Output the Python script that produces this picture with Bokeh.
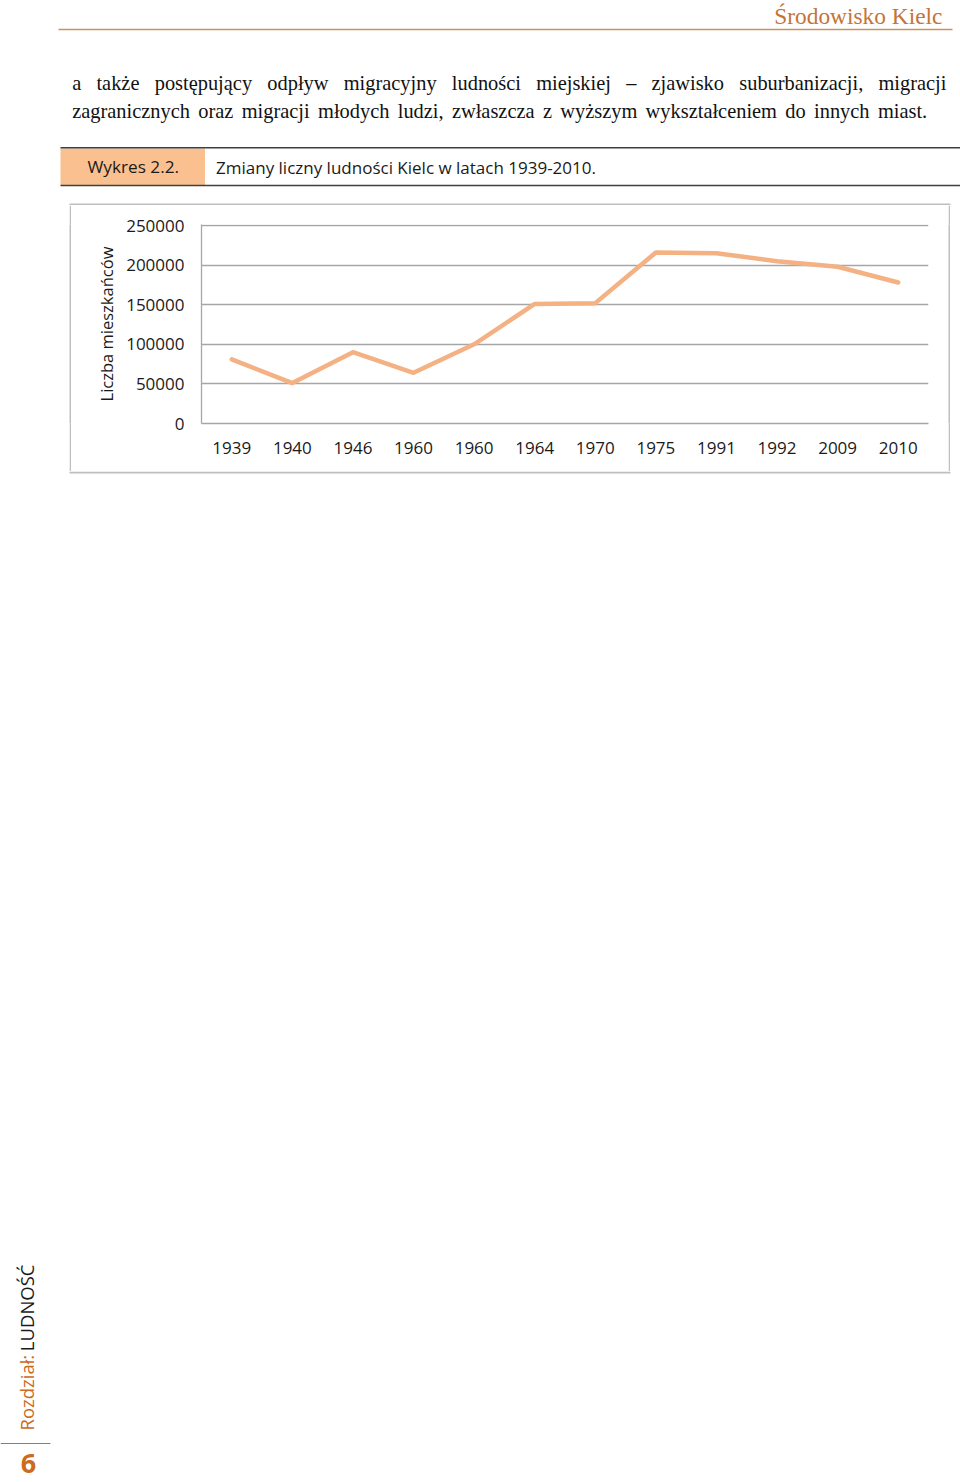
from bokeh.plotting import figure
from bokeh.models import Range1d, FixedTicker, NumeralTickFormatter, Spacer
from bokeh.layouts import column, row
from bokeh.core.properties import value
from bokeh.embed import file_html
from bokeh.resources import INLINE
import math

# ---------------- data ----------------
years = ["1939", "1940", "1946", "1960", "1960", "1964", "1970",
         "1975", "1991", "1992", "2009", "2010"]
population = [81000, 51000, 90000, 64000, 100000, 151000, 152000,
              216000, 215000, 205000, 198000, 178000]
y_ticks = [0, 50000, 100000, 150000, 200000, 250000]

header_text = "Środowisko Kielc"
para_line1 = ["a", "także", "postępujący", "odpływ", "migracyjny", "ludności",
              "miejskiej", "–", "zjawisko", "suburbanizacji,", "migracji"]
para_line2 = ["zagranicznych", "oraz", "migracji", "młodych", "ludzi,",
              "zwłaszcza", "z", "wyższym", "wykształceniem", "do", "innych",
              "miast."]
caption_num = "Wykres 2.2."
caption_text = "Zmiany liczny ludności Kielc w latach 1939-2010."
y_title = "Liczba mieszkańców"
side_a = "Rozdział:"
side_b = "LUDNOŚĆ"
page_no = "6"

# ---------------- layout (page pixels) ----------------
W, H = 960, 1482
CH_X0, CH_X1 = 71, 948     # chart figure on the page
CH_Y0, CH_Y1 = 205, 471
FL, FR, FT, FB = 201, 928, 224, 423   # plot frame on the page
BX0, BX1, BY0, BY1 = 70, 949, 204, 472  # chart outer border

SANS = "Open Sans"
SERIF = "Liberation Serif"
BORDER_COLOR = "#bfbfbf"
BORDER_W = 2
GRID = "#a6a6a6"
SHIFT_EM = 0.38   # renderer offset of alphabetic baseline, in em

# Times / Liberation Serif advance widths (1/1000 em) for justification
SERIF_W = dict(a=444, b=500, c=444, d=500, e=444, f=333, g=500, h=500, i=278,
               j=278, k=500, l=278, m=778, n=500, o=500, p=500, q=500, r=333,
               s=389, t=278, u=500, v=500, w=722, x=500, y=500, z=444)
SERIF_W.update({"ą": 444, "ę": 444, "ł": 278, "ś": 389, "ż": 444, "ź": 444,
                "ó": 500, "ń": 500, "ć": 444, ",": 250, ".": 250, "–": 500})
PARA_SIZE = 20.4
PARA_X0 = 71.7
PARA_X1 = [946.0, 926.7]   # right edges of line 1 (justified) and line 2


def word_width(w, size):
    return sum(SERIF_W.get(ch, 500) for ch in w) / 1000.0 * size


def justify(words, x0, x1, size):
    widths = [word_width(w, size) for w in words]
    gap = (x1 - x0 - sum(widths)) / (len(words) - 1)
    pos, x = [], x0
    for wd in widths:
        pos.append(x)
        x += wd + gap
    return pos


def deco_figure(x0, x1, y0, y1):
    f = figure(width=x1 - x0, height=y1 - y0, title=None,
               output_backend="svg", toolbar_location=None,
               x_range=Range1d(x0, x1), y_range=Range1d(y1, y0),
               x_axis_location=None, y_axis_location=None, min_border=0)
    f.grid.visible = False
    f.outline_line_color = None
    f.background_fill_color = "white"
    f.border_fill_color = "white"
    return f


def strip(w, h):
    f = figure(width=w, height=h, title=None, output_backend="svg",
               toolbar_location=None, x_axis_location=None,
               y_axis_location=None, min_border=0)
    f.grid.visible = False
    f.outline_line_color = None
    f.background_fill_color = BORDER_COLOR
    f.border_fill_color = BORDER_COLOR
    return f


def text(f, x, y, t, font=SANS, size=16.0, color="#1a1a1a", align="left",
         angle=0.0, style="normal"):
    shift = SHIFT_EM * size
    dx = -shift * math.sin(angle)
    dy = -shift * math.cos(angle)
    f.text(x=[x + dx], y=[y + dy], text=[t], text_font=value(font),
           text_font_size=value(f"{size}px"), text_color=color,
           text_align=align, text_baseline="alphabetic", angle=angle,
           text_font_style=style)


def seg(f, x0, y0, x1, y1, color, width):
    f.segment(x0=[x0], y0=[y0], x1=[x1], y1=[y1], line_color=color,
              line_width=width)


# ---------------- top decorations ----------------
top = deco_figure(0, W, 0, CH_Y0)
text(top, 942, 24, header_text, font=SERIF, size=23.4, color="#c47436",
     align="right")
seg(top, 58, 29, 952, 29, "#c8935f", 1.5)

for words, x1, base in ((para_line1, PARA_X1[0], 90),
                        (para_line2, PARA_X1[1], 118)):
    for w, x in zip(words, justify(words, PARA_X0, x1, PARA_SIZE)):
        text(top, x, base, w, font=SERIF, size=PARA_SIZE, color="#111111")

top.quad(left=[60], right=[204.5], top=[148], bottom=[184.5],
         fill_color="#fac090", line_color=None)
seg(top, 60, 147.3, 960, 147.3, "#3f3f3f", 1.6)
seg(top, 60, 185, 960, 185, "#3f3f3f", 1.6)
text(top, 87, 173, caption_num, size=17.2)
text(top, 215.5, 173, caption_text, size=17.0)
seg(top, BX0 - 1, BY0, BX1 + 1, BY0, BORDER_COLOR, BORDER_W)

# ---------------- chart ----------------
xs = list(range(len(years)))
p = figure(width=CH_X1 - CH_X0, height=CH_Y1 - CH_Y0, title=None,
           output_backend="svg", toolbar_location=None,
           x_range=Range1d(-0.5, len(years) - 0.5),
           y_range=Range1d(0, 251300))
p.min_border_left = FL - CH_X0
p.min_border_right = CH_X1 - FR
p.min_border_top = FT - CH_Y0
p.min_border_bottom = CH_Y1 - FB
p.outline_line_color = None
p.background_fill_color = "white"
p.border_fill_color = "white"

p.line(xs, population, line_color="#f4b183", line_width=4.5,
       line_join="round", line_cap="round")

p.yaxis.ticker = FixedTicker(ticks=y_ticks)
p.yaxis.formatter = NumeralTickFormatter(format="0")
p.yaxis.major_tick_out = 0
p.yaxis.major_tick_in = 0
p.yaxis.minor_tick_out = 0
p.yaxis.minor_tick_in = 0
p.yaxis.axis_line_color = GRID
p.yaxis.axis_line_width = 1.3
p.yaxis.major_label_standoff = 17
p.yaxis.major_label_text_font = SANS
p.yaxis.major_label_text_font_size = "17px"
p.yaxis.major_label_text_color = "#1a1a1a"
p.yaxis.axis_label = y_title
p.yaxis.axis_label_text_font = SANS
p.yaxis.axis_label_text_font_size = "16.5px"
p.yaxis.axis_label_text_font_style = "normal"
p.yaxis.axis_label_text_color = "#1a1a1a"
p.yaxis.axis_label_standoff = 5

p.xaxis.ticker = FixedTicker(ticks=xs)
p.xaxis.major_label_overrides = {i: y for i, y in enumerate(years)}
p.xaxis.major_tick_out = 0
p.xaxis.major_tick_in = 0
p.xaxis.minor_tick_out = 0
p.xaxis.minor_tick_in = 0
p.xaxis.axis_line_color = GRID
p.xaxis.axis_line_width = 1.3
p.xaxis.major_label_standoff = 18
p.xaxis.major_label_text_font = SANS
p.xaxis.major_label_text_font_size = "17px"
p.xaxis.major_label_text_color = "#1a1a1a"

p.xgrid.visible = False
p.ygrid.ticker = FixedTicker(ticks=y_ticks)
p.ygrid.grid_line_color = GRID
p.ygrid.grid_line_width = 1.3

ch = CH_Y1 - CH_Y0
chart_row = row(Spacer(width=CH_X0 - BORDER_W, height=ch),
                strip(BORDER_W, ch), p, strip(BORDER_W, ch),
                Spacer(width=W - CH_X1 - BORDER_W, height=ch), spacing=0)

# ---------------- bottom decorations ----------------
bot = deco_figure(0, W, CH_Y1, H)
seg(bot, BX0 - 1, BY1, BX1 + 1, BY1, BORDER_COLOR, BORDER_W)
text(bot, 33, 1430, side_a, size=18.5, color="#cc6a1e", angle=math.pi / 2)
text(bot, 33, 1264, side_b, size=18.5, color="#1a1a1a", angle=math.pi / 2,
     align="right")
seg(bot, 0, 1443, 50, 1443, "#7f7f7f", 1.2)
text(bot, 28, 1473, page_no, size=27.0, color="#cc6a1e", align="center",
     style="bold")

page = column(top, chart_row, bot, spacing=0)
open("out.html", "w").write(file_html(page, INLINE))
